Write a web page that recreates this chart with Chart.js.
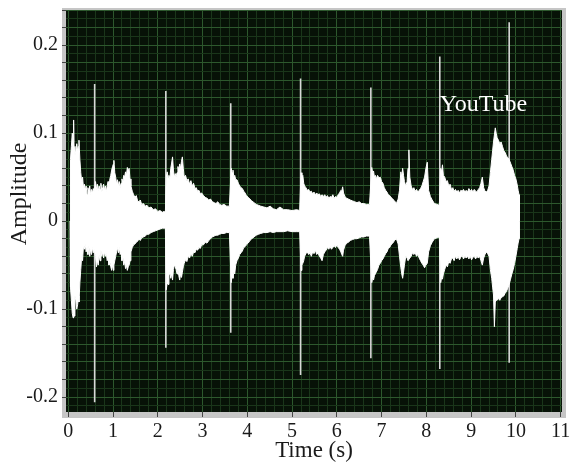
<!DOCTYPE html>
<html>
<head>
<meta charset="utf-8">
<script src="https://cdn.jsdelivr.net/npm/chart.js@4.4.1/dist/chart.umd.min.js"></script>
<style>
  html, body { margin: 0; padding: 0; background: #fff; }
  #wrap { width: 571px; height: 468px; }
</style>
</head>
<body>
<div id="wrap"><canvas id="waveChart"></canvas></div>
<script>
// envelope of the waveform, one block per burst
var times = [
  0.04,0.05,0.07,0.09,0.11,0.12,0.13,0.15,0.17,0.19, 0.21,0.23,0.24,0.26,0.28,0.30,0.32,0.34,0.36,0.38,
  0.40,0.42,0.44,0.46,0.48,0.50,0.52,0.54,0.56,0.58, 0.61,0.63,0.65,0.67,0.69,0.71,0.73,0.75,0.77,0.79,
  0.81,0.83,0.85,0.87,0.89,0.91,0.93,0.95,0.97,0.99, 1.01,1.02,1.04,1.06,1.08,1.10,1.12,1.14,1.16,1.18,
  1.20,1.22,1.24,1.26,1.28,1.30,1.32,1.34,1.36,1.38, 1.40,1.43,1.46,1.49,1.52,1.55,1.58,1.61,1.64,1.68,
  1.72,1.76,1.80,1.85,1.90,1.95,2.00,2.05,2.10,2.14,2.17,

  2.19,2.21,2.23,2.25,2.27,2.29,2.31,2.33,2.35,2.37, 2.39,2.41,2.43,2.45,2.47,2.49,2.51,2.53,2.55,2.57,
  2.59,2.62,2.65,2.68,2.71,2.74,2.77,2.80,2.83,2.86, 2.89,2.92,2.95,2.98,3.02,3.06,3.10,3.14,3.18,3.22,
  3.26,3.30,3.34,3.38,3.43,3.48,3.54,3.60,

  3.64,3.66,3.68,3.70,3.72,3.74,3.77,3.80,3.83,3.86, 3.89,3.92,3.95,3.98,4.02,4.06,4.10,4.15,4.20,4.25,
  4.30,4.37,4.44,4.51,4.58,4.65,4.73,4.81,4.90,5.00,5.10, 5.17,

  5.20,5.22,5.24,5.26,5.28,5.31,5.34,5.37,5.40,5.43, 5.46,5.49,5.52,5.55,5.58,5.61,5.64,5.67,5.70,5.73,
  5.76,5.79,5.82,5.85,5.88,5.91,5.94,5.97,6.00,6.03, 6.06,6.09,6.11,6.13,6.15,6.18,6.22,6.26,6.30,6.35,
  6.40,6.45,6.50,6.55,6.60,6.66,6.73,

  6.78,6.80,6.82,6.84,6.86,6.88,6.91,6.94,6.97,7.00, 7.03,7.06,7.09,7.12,7.15,7.18,7.21,7.25,7.29,7.33,
  7.37,7.40,7.43,7.45,7.47,7.49,7.51,7.54,7.57,7.59, 7.61,7.63,7.66,7.69,7.72,7.75,7.78,7.81,7.84,7.87,
  7.90,7.93,7.96,7.99,8.02,8.05,8.09,8.13,8.18,8.24,8.29,

  8.32,8.34,8.36,8.38,8.41,8.44,8.47,8.50,8.53,8.56, 8.59,8.62,8.65,8.68,8.71,8.74,8.77,8.80,8.83,8.86,
  8.89,8.92,8.95,8.98,9.01,9.04,9.07,9.10,9.13,9.16, 9.19,9.22,9.25,9.28,9.31,9.34,9.37,9.40,9.43,9.46,
  9.48,9.50,9.52,9.54,9.56,9.58,9.61,9.64,9.67,9.70, 9.73,9.76,9.79,9.82,9.85,9.88,9.91,9.94,9.97,10.00,
  10.03,10.05,10.07,10.08
];
var upper = [
  0,0.07,0.085,0.1,0.09,0.115,0.085,0.075,0.08,0.088, 0.08,0.085,0.092,0.07,0.055,0.045,0.05,0.038,0.042,0.035,
  0.04,0.03,0.038,0.033,0.04,0.03,0.036,0.032,0.037,0.033, 0.045,0.036,0.042,0.034,0.04,0.036,0.043,0.033,0.038,0.042,
  0.035,0.04,0.033,0.04,0.045,0.038,0.048,0.052,0.058,0.062, 0.065,0.069,0.055,0.05,0.042,0.047,0.04,0.045,0.038,0.043,
  0.048,0.044,0.052,0.05,0.056,0.052,0.061,0.057,0.06,0.048, 0.04,0.034,0.03,0.027,0.029,0.023,0.022,0.024,0.019,0.02,
  0.017,0.018,0.015,0.016,0.013,0.014,0.011,0.012,0.01,0.011,0.01,

  0.05,0.056,0.05,0.052,0.048,0.06,0.066,0.073,0.058,0.05, 0.054,0.05,0.055,0.062,0.058,0.065,0.06,0.068,0.073,0.06,
  0.05,0.052,0.046,0.048,0.042,0.046,0.04,0.043,0.037,0.038, 0.034,0.035,0.031,0.032,0.029,0.027,0.026,0.024,0.025,0.022,
  0.021,0.02,0.022,0.019,0.018,0.019,0.017,0.017,

  0.06,0.055,0.058,0.05,0.052,0.047,0.047,0.043,0.04,0.038, 0.037,0.034,0.032,0.029,0.027,0.025,0.023,0.021,0.019,0.018,
  0.017,0.016,0.015,0.017,0.014,0.013,0.016,0.013,0.013,0.012,0.013, 0.012,

  0.055,0.05,0.052,0.043,0.04,0.038,0.035,0.036,0.033,0.034, 0.031,0.033,0.03,0.032,0.03,0.031,0.028,0.03,0.028,0.03,
  0.027,0.029,0.026,0.028,0.027,0.03,0.026,0.028,0.027,0.03, 0.032,0.035,0.034,0.039,0.032,0.028,0.026,0.025,0.024,0.023,
  0.022,0.021,0.022,0.02,0.02,0.019,0.019,

  0.061,0.055,0.057,0.05,0.052,0.048,0.052,0.049,0.05,0.045, 0.043,0.038,0.035,0.033,0.03,0.029,0.027,0.025,0.023,0.02,
  0.025,0.035,0.056,0.05,0.06,0.052,0.045,0.04,0.045,0.06, 0.081,0.05,0.04,0.036,0.038,0.034,0.036,0.033,0.035,0.037,
  0.04,0.045,0.05,0.06,0.067,0.035,0.028,0.024,0.02,0.019,0.018,

  0.06,0.056,0.064,0.052,0.05,0.045,0.046,0.04,0.042,0.036, 0.038,0.034,0.036,0.033,0.035,0.032,0.035,0.034,0.036,0.033,
  0.035,0.033,0.037,0.034,0.036,0.033,0.036,0.034,0.033,0.036, 0.038,0.043,0.05,0.038,0.034,0.033,0.035,0.04,0.055,0.07,
  0.08,0.09,0.098,0.106,0.1,0.095,0.092,0.088,0.09,0.085, 0.08,0.078,0.074,0.072,0.07,0.066,0.062,0.058,0.052,0.048,
  0.041,0.035,0.03,0
];
var lower = [
  0,-0.075,-0.09,-0.105,-0.11,-0.095,-0.108,-0.085,-0.09,-0.1, -0.095,-0.085,-0.092,-0.07,-0.055,-0.04,-0.045,-0.028,-0.032,-0.026,
  -0.035,-0.03,-0.038,-0.028,-0.04,-0.032,-0.038,-0.03,-0.036,-0.032, -0.04,-0.052,-0.045,-0.05,-0.038,-0.045,-0.033,-0.04,-0.035,-0.042,
  -0.035,-0.04,-0.036,-0.045,-0.042,-0.05,-0.046,-0.052,-0.056,-0.05, -0.056,-0.05,-0.045,-0.04,-0.035,-0.03,-0.036,-0.03,-0.038,-0.035,
  -0.045,-0.04,-0.05,-0.046,-0.054,-0.05,-0.056,-0.052,-0.05,-0.045, -0.035,-0.03,-0.027,-0.026,-0.024,-0.023,-0.02,-0.022,-0.019,-0.018,
  -0.017,-0.015,-0.015,-0.013,-0.012,-0.011,-0.01,-0.009,-0.008,-0.008,-0.008,

  -0.078,-0.07,-0.072,-0.062,-0.058,-0.065,-0.06,-0.067,-0.055,-0.05, -0.052,-0.055,-0.06,-0.055,-0.062,-0.067,-0.06,-0.064,-0.058,-0.052,
  -0.048,-0.044,-0.046,-0.04,-0.042,-0.037,-0.04,-0.035,-0.036,-0.032, -0.033,-0.03,-0.031,-0.027,-0.027,-0.024,-0.025,-0.022,-0.02,-0.018,
  -0.017,-0.016,-0.016,-0.015,-0.014,-0.014,-0.013,-0.013,

  -0.07,-0.062,-0.065,-0.058,-0.06,-0.05,-0.045,-0.042,-0.038,-0.036, -0.034,-0.03,-0.029,-0.027,-0.025,-0.022,-0.02,-0.018,-0.016,-0.015,
  -0.014,-0.013,-0.013,-0.012,-0.013,-0.012,-0.012,-0.012,-0.011,-0.012,-0.012, -0.012,

  -0.056,-0.05,-0.048,-0.045,-0.04,-0.037,-0.035,-0.038,-0.036,-0.04, -0.035,-0.037,-0.033,-0.038,-0.036,-0.04,-0.042,-0.045,-0.038,-0.035,
  -0.033,-0.03,-0.032,-0.029,-0.032,-0.03,-0.028,-0.03,-0.027,-0.03, -0.032,-0.035,-0.038,-0.04,-0.033,-0.028,-0.025,-0.024,-0.022,-0.021,
  -0.02,-0.02,-0.019,-0.018,-0.018,-0.017,-0.017,

  -0.07,-0.064,-0.067,-0.062,-0.06,-0.058,-0.055,-0.05,-0.048,-0.045, -0.043,-0.04,-0.037,-0.035,-0.031,-0.03,-0.027,-0.025,-0.022,-0.02,
  -0.026,-0.04,-0.053,-0.06,-0.065,-0.058,-0.05,-0.04,-0.042,-0.045, -0.045,-0.042,-0.04,-0.036,-0.038,-0.036,-0.04,-0.038,-0.042,-0.045,
  -0.048,-0.05,-0.053,-0.05,-0.048,-0.035,-0.028,-0.024,-0.02,-0.019,-0.018,

  -0.07,-0.064,-0.066,-0.06,-0.055,-0.05,-0.052,-0.046,-0.048,-0.043, -0.042,-0.045,-0.04,-0.043,-0.04,-0.044,-0.041,-0.039,-0.043,-0.04,
  -0.042,-0.04,-0.043,-0.04,-0.044,-0.041,-0.04,-0.043,-0.04,-0.042, -0.04,-0.045,-0.05,-0.042,-0.038,-0.035,-0.037,-0.04,-0.055,-0.065,
  -0.075,-0.084,-0.12,-0.092,-0.09,-0.09,-0.088,-0.09,-0.087,-0.086, -0.085,-0.082,-0.08,-0.076,-0.072,-0.066,-0.06,-0.055,-0.048,-0.04,
  -0.031,-0.025,-0.02,0
];

// the tall clicks at the start of each burst
var spikeTimes  = [0.59, 2.18, 3.63, 5.19, 6.76, 8.30, 9.85];
var spikeTop    = [0.156, 0.148, 0.134, 0.162, 0.152, 0.187, 0.226];
var spikeBottom = [-0.206, -0.144, -0.127, -0.175, -0.156, -0.168, -0.161];

var xTickLabels = [0, 1, 2, 3, 4, 5, 6, 7, 8, 9, 10, 11];
var yTickLabels = [-0.2, -0.1, 0, 0.1, 0.2];

var bg = "#071207";
var minorGrid = "#1a361a";
var majorGrid = "#2d582d";
var serif = "'Liberation Serif', 'Times New Roman', serif";

var upperPts = times.map(function (t, i) { return {x: t, y: upper[i]}; });
var lowerPts = times.map(function (t, i) { return {x: t, y: lower[i]}; });
var spikePts = [];
spikeTimes.forEach(function (t, i) {
  spikePts.push({x: t, y: spikeBottom[i]}, {x: t, y: spikeTop[i]}, {x: t, y: null});
});

function near(v, list) {
  for (var i = 0; i < list.length; i++) {
    if (Math.abs(v - list[i]) < 1e-6) return list[i];
  }
  return null;
}

var framePlugin = {
  id: "frame",
  beforeDraw: function (chart) {
    var c = chart.ctx, a = chart.chartArea;
    c.save();
    c.fillStyle = "#c6c6c6";
    c.fillRect(a.left - 4, a.top - 2, a.width + 8, a.height + 8);
    c.fillStyle = bg;
    c.fillRect(a.left, a.top, a.width, a.height);
    c.restore();
  },
  afterDatasetsDraw: function (chart) {
    var c = chart.ctx;
    c.save();
    c.fillStyle = "#ffffff";
    c.font = "24px " + serif;
    c.textAlign = "left";
    c.textBaseline = "middle";
    c.fillText("YouTube", chart.scales.x.getPixelForValue(8.3), chart.scales.y.getPixelForValue(0.132));
    c.restore();
  },
  afterDraw: function (chart) {
    var c = chart.ctx;
    c.save();
    c.translate(20, 194);
    c.rotate(-Math.PI / 2);
    c.fillStyle = "#1a1a1a";
    c.font = "24px " + serif;
    c.textAlign = "center";
    c.textBaseline = "middle";
    c.fillText("Amplitude", 0, 0);
    c.restore();
  }
};

new Chart("waveChart", {
  type: "line",
  data: {
    datasets: [{
      data: upperPts,
      borderColor: "#ffffff",
      backgroundColor: "#ffffff",
      borderWidth: 1,
      fill: "origin",
      pointRadius: 0,
      order: 0
    }, {
      data: lowerPts,
      borderColor: "#ffffff",
      backgroundColor: "#ffffff",
      borderWidth: 1,
      fill: "origin",
      pointRadius: 0,
      order: 0
    }, {
      data: spikePts,
      borderColor: "#d8d8d8",
      borderWidth: 1.6,
      fill: false,
      pointRadius: 0,
      spanGaps: false,
      order: 1
    }]
  },
  options: {
    responsive: true,
    maintainAspectRatio: false,
    animation: false,
    layout: {padding: {left: 0, top: 10, right: 9, bottom: 0}},
    plugins: {legend: {display: false}, tooltip: {enabled: false}},
    scales: {
      x: {
        type: "linear",
        min: -0.05,
        max: 11.03,
        offset: false,
        afterBuildTicks: function (axis) {
          var ticks = [];
          for (var i = 0; i <= 55; i++) ticks.push({value: Math.round(i * 2) / 10});
          axis.ticks = ticks;
        },
        afterFit: function (axis) {
          axis.height = 56;
          axis.paddingLeft = 0;
          axis.paddingRight = 0;
        },
        border: {display: false},
        grid: {
          offset: false,
          color: function (ctx) { return near(ctx.tick.value, xTickLabels) !== null ? majorGrid : minorGrid; },
          tickColor: function (ctx) { return near(ctx.tick.value, xTickLabels) !== null ? "#444" : "rgba(0,0,0,0)"; },
          tickLength: 5,
          lineWidth: 1
        },
        ticks: {
          autoSkip: false,
          maxRotation: 0,
          padding: 3,
          color: "#1a1a1a",
          font: {family: serif, size: 20},
          callback: function (v) { var l = near(v, xTickLabels); return l === null ? "" : String(l); }
        },
        title: {
          display: true,
          text: "Time (s)",
          color: "#1a1a1a",
          font: {family: serif, size: 23},
          padding: {top: 0, bottom: 3}
        }
      },
      y: {
        type: "linear",
        min: -0.217,
        max: 0.24,
        afterBuildTicks: function (axis) {
          var ticks = [];
          for (var i = -21; i <= 24; i++) ticks.push({value: i / 100});
          axis.ticks = ticks;
        },
        afterFit: function (axis) {
          axis.width = 66;
          axis.paddingTop = 0;
          axis.paddingBottom = 0;
        },
        border: {display: false},
        grid: {
          color: function (ctx) { return Math.round(ctx.tick.value * 100) % 2 === 0 ? majorGrid : minorGrid; },
          tickColor: function (ctx) { return Math.round(ctx.tick.value * 100) % 2 === 0 ? "#444" : "rgba(0,0,0,0)"; },
          tickLength: 4,
          lineWidth: 1
        },
        ticks: {
          autoSkip: false,
          padding: 4,
          color: "#1a1a1a",
          font: {family: serif, size: 20},
          callback: function (v) { var l = near(v, yTickLabels); return l === null ? "" : String(l); }
        }
      }
    }
  },
  plugins: [framePlugin]
});
</script>
</body>
</html>
